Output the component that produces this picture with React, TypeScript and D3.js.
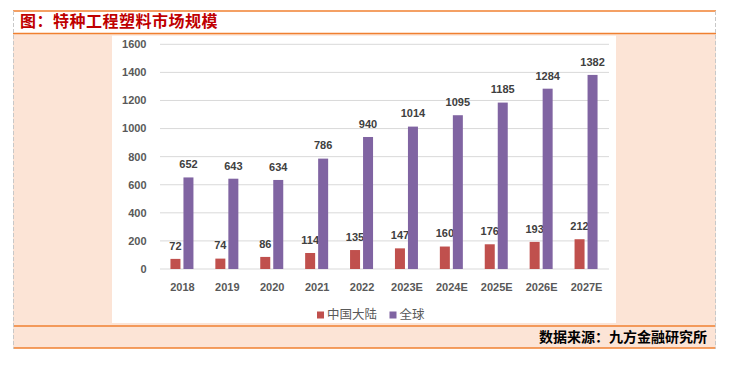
import React from "react";
import * as d3 from "d3";

const categories = ["2018", "2019", "2020", "2021", "2022", "2023E", "2024E", "2025E", "2026E", "2027E"];
const chinaValues = [72, 74, 86, 114, 135, 147, 160, 176, 193, 212];
const globalValues = [652, 643, 634, 786, 940, 1014, 1095, 1185, 1284, 1382];
const yTicks = [0, 200, 400, 600, 800, 1000, 1200, 1400, 1600];
const seriesNames = ["中国大陆", "全球"];
const seriesColors = ["#C0504D", "#8064A2"];
const title = "图：特种工程塑料市场规模";
const source = "数据来源：九方金融研究所";

export default function App() {
  const W = 729, H = 365;
  const x = d3.scaleBand<string>().domain(categories).range([160, 609]);
  const y = d3.scaleLinear().domain([0, 1600]).range([269, 44.3]);
  const barW = 10;
  const offsets = [-12, 1];
  const num = "'Liberation Sans', Arial, sans-serif";
  const cjk = "'Noto Sans CJK SC', sans-serif";
  const series = [chinaValues, globalValues];

  return (
    <svg width={W} height={H} style={{ position: "absolute", left: 0, top: 0, background: "#fff" }}>
      {/* frame */}
      <rect x={13} y={34} width={703} height={314} fill="#FCE4D6" />
      <rect x={112} y={35.7} width={504} height={287.3} fill="#ffffff" />
      <line x1={13} x2={716} y1={11} y2={11} stroke="#F08030" strokeWidth={1.5} />
      <line x1={13} x2={716} y1={33.5} y2={33.5} stroke="#F08030" strokeWidth={1.5} />
      <line x1={13} x2={716} y1={326} y2={326} stroke="#F08030" strokeWidth={1.5} />
      <line x1={13} x2={716} y1={348} y2={348} stroke="#F08030" strokeWidth={1.5} />
      <line x1={13.5} x2={13.5} y1={11} y2={349} stroke="#C8C8C8" strokeDasharray="4,2" />
      <line x1={715.5} x2={715.5} y1={11} y2={349} stroke="#C8C8C8" strokeDasharray="4,2" />
      <text x={20} y={27} fill="#C00000" fontSize={16} fontWeight="bold" fontFamily={cjk} letterSpacing={0.5}>
        {title}
      </text>
      <text x={707} y={342} textAnchor="end" fill="#000" fontSize={14} fontWeight="bold" fontFamily={cjk}>
        {source}
      </text>

      {/* grid */}
      {yTicks.map((t) => (
        <g key={t}>
          <line x1={160} x2={609} y1={y(t)} y2={y(t)} stroke="#D9D9D9" strokeWidth={1} />
          <text x={146.5} y={y(t)} dy="0.35em" textAnchor="end" fill="#595959" fontSize={11} fontWeight="bold" fontFamily={num}>
            {t}
          </text>
        </g>
      ))}

      {/* bars */}
      {series.map((vals, si) =>
        vals.map((v, i) => {
          const cx = (x(categories[i]) as number) + x.bandwidth() / 2 + offsets[si];
          return (
            <g key={si + "-" + i}>
              <rect x={cx} y={y(v)} width={barW} height={y(0) - y(v)} fill={seriesColors[si]} />
              <text x={cx + barW / 2} y={y(v) - 13} dy="0.35em" textAnchor="middle" fill="#404040" fontSize={11} fontWeight="bold" fontFamily={num}>
                {v}
              </text>
            </g>
          );
        })
      )}

      {/* x labels */}
      {categories.map((c) => (
        <text key={c} x={(x(c) as number) + x.bandwidth() / 2} y={287} dy="0.35em" textAnchor="middle" fill="#595959" fontSize={11} fontWeight="bold" fontFamily={num}>
          {c}
        </text>
      ))}

      {/* legend */}
      {seriesNames.map((n, i) => {
        const lx = i === 0 ? 317 : 389.5;
        return (
          <g key={n}>
            <rect x={lx} y={311.5} width={7} height={7} fill={seriesColors[i]} />
            <text x={lx + 10} y={315} dy="0.35em" fill="#595959" fontSize={12.5} fontFamily={cjk}>
              {n}
            </text>
          </g>
        );
      })}
    </svg>
  );
}
